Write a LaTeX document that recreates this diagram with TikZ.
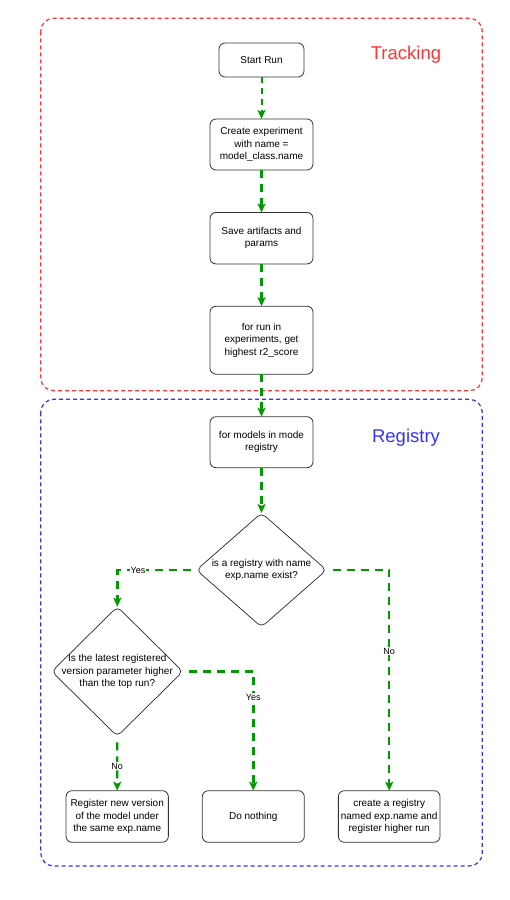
\documentclass[tikz,border=0pt]{standalone}
\usepackage{fontspec}
\setmainfont{Liberation Sans}
\usetikzlibrary{shapes.geometric,arrows.meta}
\definecolor{trk}{HTML}{FF3333}
\definecolor{reg}{HTML}{3333FF}
\definecolor{flow}{HTML}{009900}
\definecolor{edgec}{HTML}{333333}
\begin{document}
\begin{tikzpicture}[x=1pt,y=-1pt,
  box/.style={draw=edgec, line width=0.8pt, rounded corners=6pt, align=center,
    font=\fontsize{10}{12.4}\selectfont, inner sep=2pt, outer sep=0pt,
    minimum width=103pt, minimum height=51pt},
  dia/.style={draw=black!85, line width=0.7pt, diamond, rounded corners=5pt,
    inner sep=0pt, outer sep=0pt},
  diatext/.style={align=center, font=\fontsize{10}{12.6}\selectfont, inner sep=0pt},
  flowarrow/.style={draw=flow, line width=2.4pt, dash pattern=on 8pt off 6pt,
    -{Stealth[inset=2pt,length=9pt,width=8pt]}},
  lbl/.style={fill=white, inner sep=1pt, font=\fontsize{9}{11}\selectfont},
  group/.style={line width=1.2pt, rounded corners=13pt, dash pattern=on 4pt off 3pt},
  title/.style={font=\fontsize{18.5}{22}\selectfont}
]
\useasboundingbox (0,0) rectangle (510,900);

% groups
\draw[group, draw=trk] (40.7,18.3) rectangle (482.3,390.7);
\draw[group, draw=reg] (40.7,399.3) rectangle (482.3,866);
\node[title, text=trk] (ttrk) at (406,55) {Tracking};
\node[title, text=reg] (treg) at (406,438) {Registry};

% tracking chain
\node[box, minimum width=85pt, minimum height=34pt] (start) at (261.5,60) {Start Run};
\node[box] (create) at (261.5,144.5) {Create experiment\\with name =\\model\_class.name};
\node[box, minimum height=51.5pt] (save) at (261.5,238.2) {Save artifacts and\\params};
\node[box, minimum height=68pt] (forrun) at (261.5,340.2) {for run in\\experiments, get\\highest r2\_score};
\node[box] (formodels) at (261.5,442.2) {for models in mode\\registry};

% decisions
\node[dia, minimum width=130pt, minimum height=114pt] (d1) at (261.5,570) {};
\node[diatext] (d1t) at (d1.center) {is a registry with name\\exp.name exist?};
\node[dia, minimum width=131pt, minimum height=129.5pt] (d2) at (117.3,671.5) {};
\node[diatext] (d2t) at (d2.center) {Is the latest registered\\version parameter higher\\than the top run?};

% outcomes
\node[box, minimum width=102.3pt, minimum height=51.6pt] (b1) at (117.2,816.5) {Register new version\\of the model under\\the same exp.name};
\node[box, minimum width=102pt, minimum height=51.6pt] (b2) at (253.3,816.5) {Do nothing};
\node[box, minimum width=101.7pt, minimum height=51.6pt] (b3) at (389.2,816.5) {create a registry\\named exp.name and\\register higher run};

% connectors
\draw[flowarrow, line width=2pt, dash pattern=on 6pt off 5pt] (start.south) -- (create.north);
\draw[flowarrow] (create.south) -- (save.north);
\draw[flowarrow] (save.south) -- (forrun.north);
\draw[flowarrow] (forrun.south) -- (formodels.north);
\draw[flowarrow] (formodels.south) -- (d1.north);

\draw[flowarrow, shorten <=6pt] (d1.west) -- (d2.north |- d1.west) -- (d2.north);
\node[lbl] (yes1) at (138,570) {Yes};

\draw[flowarrow, shorten <=6pt] (d1.east) -- (b3.north |- d1.east) -- (b3.north);
\node[lbl] (no1) at (389.2,651) {No};

\draw[flowarrow, shorten <=6pt] (d2.east) -- (b2.north |- d2.east) -- (b2.north);
\node[lbl] (yes2) at (253.3,697) {Yes};

\draw[flowarrow, shorten <=6pt] (d2.south) -- (b1.north);
\node[lbl] (no2) at (117.2,766) {No};
\end{tikzpicture}
\end{document}
